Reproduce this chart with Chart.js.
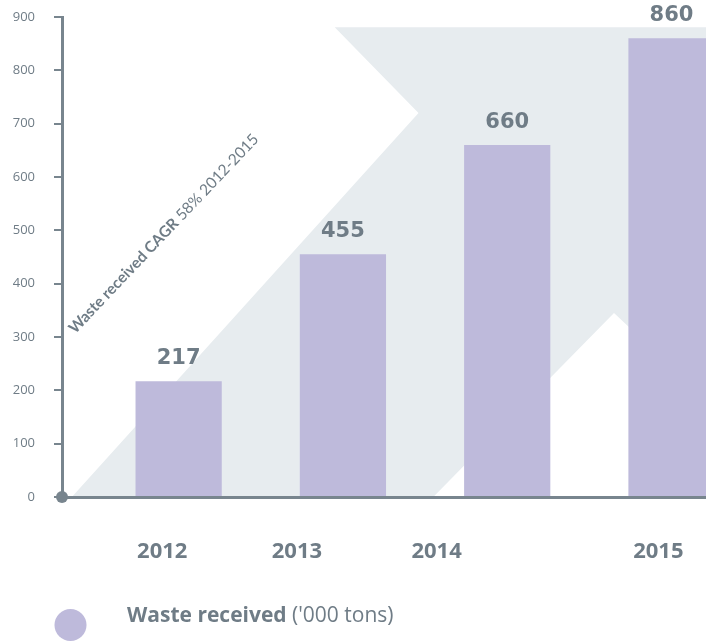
<!DOCTYPE html>
<html>
<head>
<meta charset="utf-8">
<script src="https://cdn.jsdelivr.net/npm/chart.js@4.4.0/dist/chart.umd.min.js"></script>
<style>
  html, body { margin: 0; padding: 0; background: #fff; }
  #wrap { width: 706px; height: 641px; position: relative; }
</style>
</head>
<body>
<div id="wrap"><canvas id="myChart"></canvas></div>
<script>
const years = ["2012", "2013", "2014", "2015"];
const wasteReceived = [217, 455, 660, 860];
const yTickValues = [0, 100, 200, 300, 400, 500, 600, 700, 800, 900];
// where the year labels sit under the bars (bar-index units)
const yearLabelPos = [-0.10, 0.72, 1.57, 2.92];
// grey arrow behind the bars (x in bar-index units, y in '000 tons)
const arrowX = [-0.65, 1.46, 0.95, 3.6, 3.6, 2.65, 1.55];
const arrowY = [0, 720, 881, 881, 70, 345, 0];
const cagrBold = "Waste received CAGR";
const cagrRest = " 58% 2012-2015";
const cagrAnchor = { x: -0.63, y: 305 };
const legendBold = "Waste received";
const legendRest = " ('000 tons)";

const grey = "#6f7c86";
const axisGrey = "#78858e";
const barColor = "#bebadb";
const arrowColor = "#e7ecef";

const arrowPlugin = {
  id: "arrowBg",
  beforeDraw(chart) {
    const { ctx, chartArea, scales } = chart;
    ctx.save();
    ctx.beginPath();
    ctx.rect(chartArea.left, chartArea.top - 20, chartArea.right - chartArea.left, chartArea.bottom - chartArea.top + 20);
    ctx.clip();
    ctx.beginPath();
    arrowX.forEach((v, i) => {
      const px = scales.x.getPixelForValue(v);
      const py = scales.y.getPixelForValue(arrowY[i]);
      if (i === 0) ctx.moveTo(px, py); else ctx.lineTo(px, py);
    });
    ctx.closePath();
    ctx.fillStyle = arrowColor;
    ctx.fill();
    ctx.restore();
  }
};

const labelsPlugin = {
  id: "extras",
  afterDatasetsDraw(chart) {
    const { ctx, scales } = chart;
    const meta = chart.getDatasetMeta(0);
    ctx.save();
    // values above bars
    ctx.fillStyle = grey;
    ctx.font = "bold 21px 'DejaVu Sans'";
    ctx.textAlign = "center";
    ctx.textBaseline = "alphabetic";
    meta.data.forEach((bar, i) => {
      ctx.fillText(String(wasteReceived[i]), bar.x, bar.y - 17);
    });
    // CAGR note
    const ax = scales.x.getPixelForValue(cagrAnchor.x);
    const ay = scales.y.getPixelForValue(cagrAnchor.y);
    ctx.translate(ax, ay);
    ctx.rotate(-46.5 * Math.PI / 180);
    ctx.textAlign = "left";
    ctx.font = "bold 15.5px Lato";
    ctx.fillText(cagrBold, 0, 0);
    const w = ctx.measureText(cagrBold).width;
    ctx.font = "15.5px Lato";
    ctx.fillText(cagrRest, w, 0);
    ctx.restore();
  },
  afterDraw(chart) {
    const { ctx, chartArea } = chart;
    ctx.save();
    // origin dot
    ctx.fillStyle = axisGrey;
    ctx.beginPath();
    ctx.arc(chartArea.left, chartArea.bottom, 6, 0, Math.PI * 2);
    ctx.fill();
    // legend
    ctx.fillStyle = barColor;
    ctx.beginPath();
    ctx.arc(70.5, 625, 16, 0, Math.PI * 2);
    ctx.fill();
    ctx.fillStyle = grey;
    ctx.textBaseline = "alphabetic";
    ctx.font = "bold 21px 'Open Sans'";
    ctx.fillText(legendBold, 127, 622);
    const w = ctx.measureText(legendBold).width;
    ctx.font = "21px 'Open Sans'";
    ctx.fillText(legendRest, 127 + w, 622);
    ctx.restore();
  }
};

const noPad = (axis) => {
  axis.paddingLeft = 0;
  axis.paddingRight = 0;
  axis.paddingTop = 0;
  axis.paddingBottom = 0;
};

const ctx = document.getElementById("myChart").getContext("2d");
new Chart(ctx, {
  type: "bar",
  data: {
    datasets: [{
      label: "Waste received ('000 tons)",
      data: wasteReceived.map((v, i) => ({ x: i, y: v })),
      backgroundColor: barColor,
      borderWidth: 0,
      categoryPercentage: 1,
      // bar width is taken from the closest tick gap (0.82 units)
      barPercentage: 0.64
    }]
  },
  options: {
    responsive: true,
    maintainAspectRatio: false,
    animation: false,
    layout: { padding: { top: 17, right: 0, bottom: 0, left: 0 } },
    plugins: {
      legend: { display: false },
      tooltip: { enabled: false }
    },
    scales: {
      x: {
        type: "linear",
        offset: false,
        min: -0.71,
        max: 3.21,
        grid: { display: false, drawTicks: false, offset: false },
        border: { display: true, color: axisGrey, width: 3 },
        afterBuildTicks: (axis) => {
          axis.ticks = yearLabelPos.map(v => ({ value: v }));
        },
        afterFit: (axis) => { axis.height = 144; noPad(axis); },
        ticks: {
          autoSkip: false,
          maxRotation: 0,
          padding: 42,
          color: grey,
          font: { family: "'Open Sans'", size: 22, weight: "bold" },
          callback: (v, i) => years[i]
        }
      },
      y: {
        min: 0,
        max: 900,
        afterBuildTicks: (axis) => {
          axis.ticks = yTickValues.map(v => ({ value: v }));
        },
        afterFit: (axis) => { axis.width = 62; noPad(axis); },
        grid: {
          drawOnChartArea: false,
          drawTicks: true,
          tickLength: 8,
          color: axisGrey,
          lineWidth: 2
        },
        border: { display: true, color: axisGrey, width: 3 },
        ticks: {
          padding: 19,
          color: grey,
          font: { family: "'Open Sans'", size: 13 }
        }
      }
    }
  },
  plugins: [arrowPlugin, labelsPlugin]
});
</script>
</body>
</html>
